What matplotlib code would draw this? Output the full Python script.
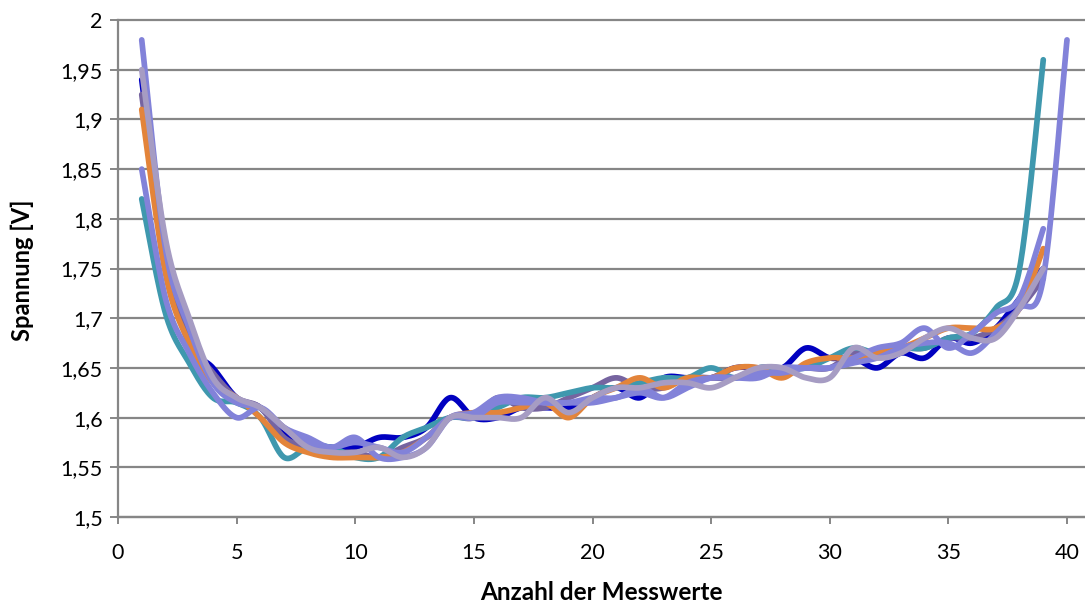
import numpy as np
import matplotlib
matplotlib.use("Agg")
import matplotlib.pyplot as plt

# Measured voltages per measurement series (index 1..n)
blau = [1.94, 1.76, 1.675, 1.65, 1.62, 1.61, 1.585, 1.575, 1.57, 1.57, 1.58, 1.58, 1.59, 1.62,
        1.60, 1.60, 1.61, 1.61, 1.61, 1.62, 1.63, 1.62, 1.64, 1.64, 1.64, 1.65, 1.65, 1.65, 1.67,
        1.66, 1.66, 1.65, 1.665, 1.66, 1.68, 1.675, 1.69, 1.72, 1.75]
violett = [1.925, 1.76, 1.68, 1.645, 1.62, 1.61, 1.58, 1.57, 1.565, 1.565, 1.56, 1.57, 1.58, 1.60,
           1.60, 1.62, 1.61, 1.61, 1.62, 1.63, 1.64, 1.63, 1.63, 1.64, 1.64, 1.64, 1.65, 1.65,
           1.65, 1.65, 1.665, 1.665, 1.67, 1.67, 1.68, 1.68, 1.69, 1.71, 1.74]
tuerkis = [1.82, 1.705, 1.655, 1.62, 1.615, 1.60, 1.56, 1.57, 1.57, 1.56, 1.56, 1.58, 1.59, 1.60,
           1.60, 1.61, 1.62, 1.62, 1.625, 1.63, 1.63, 1.635, 1.64, 1.64, 1.65, 1.64, 1.65, 1.65,
           1.65, 1.66, 1.67, 1.665, 1.67, 1.67, 1.68, 1.685, 1.71, 1.75, 1.96]
orange = [1.91, 1.745, 1.675, 1.635, 1.62, 1.60, 1.575, 1.565, 1.56, 1.56, 1.56, 1.565, 1.58,
          1.60, 1.605, 1.605, 1.61, 1.615, 1.60, 1.62, 1.63, 1.64, 1.63, 1.64, 1.64, 1.65, 1.65,
          1.64, 1.655, 1.66, 1.66, 1.665, 1.67, 1.68, 1.69, 1.69, 1.69, 1.71, 1.77]
lavendel_a = [1.98, 1.77, 1.69, 1.635, 1.615, 1.61, 1.59, 1.58, 1.57, 1.58, 1.56, 1.56, 1.57,
              1.60, 1.605, 1.62, 1.62, 1.615, 1.615, 1.615, 1.62, 1.625, 1.62, 1.635, 1.64,
              1.64, 1.645, 1.645, 1.65, 1.65, 1.655, 1.66, 1.67, 1.675, 1.675, 1.665, 1.685,
              1.71, 1.74, 1.98]
lavendel_b = [1.85, 1.72, 1.665, 1.625, 1.60, 1.61, 1.59, 1.575, 1.57, 1.575, 1.57, 1.565, 1.58,
              1.60, 1.60, 1.615, 1.615, 1.615, 1.615, 1.62, 1.62, 1.63, 1.62, 1.63, 1.64, 1.64,
              1.64, 1.65, 1.65, 1.65, 1.66, 1.67, 1.675, 1.69, 1.67, 1.685, 1.705, 1.72, 1.79]
grau = [1.95, 1.78, 1.70, 1.64, 1.62, 1.61, 1.59, 1.57, 1.565, 1.565, 1.57, 1.56, 1.57, 1.60,
        1.60, 1.60, 1.60, 1.62, 1.605, 1.62, 1.63, 1.63, 1.635, 1.635, 1.63, 1.64, 1.65, 1.65,
        1.64, 1.64, 1.67, 1.66, 1.665, 1.68, 1.69, 1.68, 1.68, 1.71, 1.75]

series = [
    (blau, "#0000C0"),
    (violett, "#7664A0"),
    (tuerkis, "#3F98AE"),
    (orange, "#E3843A"),
    (lavendel_a, "#8282D9"),
    (lavendel_b, "#8282D9"),
    (grau, "#A69CC3"),
]

x_ticks = [0, 5, 10, 15, 20, 25, 30, 35, 40]
y_ticks = [1.5, 1.55, 1.6, 1.65, 1.7, 1.75, 1.8, 1.85, 1.9, 1.95, 2.0]


def smooth(xs, ys, steps=24):
    """Smoothed line through the points (cubic Bezier, Catmull-Rom tangents)."""
    xs = np.asarray(xs, float)
    ys = np.asarray(ys, float)
    n = len(xs)
    out_x, out_y = [xs[0]], [ys[0]]
    t = np.linspace(0, 1, steps + 1)[1:]
    for i in range(n - 1):
        p0 = np.array([xs[max(i - 1, 0)], ys[max(i - 1, 0)]])
        p1 = np.array([xs[i], ys[i]])
        p2 = np.array([xs[i + 1], ys[i + 1]])
        p3 = np.array([xs[min(i + 2, n - 1)], ys[min(i + 2, n - 1)]])
        c1 = p1 + (p2 - p0) / 6.0
        c2 = p2 - (p3 - p1) / 6.0
        b = ((1 - t) ** 3)[:, None] * p1 + (3 * (1 - t) ** 2 * t)[:, None] * c1 \
            + (3 * (1 - t) * t ** 2)[:, None] * c2 + (t ** 3)[:, None] * p2
        out_x.extend(b[:, 0])
        out_y.extend(b[:, 1])
    return np.array(out_x), np.array(out_y)


font = "Lato"
grid_col = "#868686"

fig = plt.figure(figsize=(10.85, 6.03), dpi=100)
ax = fig.add_axes([118 / 1085, 86 / 603, 1 - 118 / 1085, 497 / 603])

for vals, col in series:
    xs = np.arange(1, len(vals) + 1)
    sx, sy = smooth(xs, vals)
    ax.plot(sx, sy, color=col, lw=4.1, solid_capstyle="round", solid_joinstyle="round",
            zorder=3)

ax.set_xlim(0, 40 * 967 / 949)
ax.set_ylim(1.5, 2.0)
ax.set_xticks(x_ticks)
ax.set_yticks(y_ticks)
ax.set_xticklabels([str(v) for v in x_ticks], fontfamily=font, fontsize=15.5)
ax.set_yticklabels([f"{v:g}".replace(".", ",") for v in y_ticks], fontfamily=font,
                   fontsize=15.5)

for y in y_ticks:
    ax.axhline(y, color=grid_col, lw=1.6, zorder=1, clip_on=False)

for side in ("top", "right"):
    ax.spines[side].set_visible(False)
for side in ("left", "bottom"):
    ax.spines[side].set_color(grid_col)
    ax.spines[side].set_linewidth(1.6)

ax.tick_params(axis="y", direction="out", length=6, width=1.4, color=grid_col, pad=5)
ax.tick_params(axis="x", direction="out", length=5, width=1.4, color=grid_col, pad=14)

fig.text((118 + 1085) / 2 / 1085, 1 - 592 / 603, "Anzahl der Messwerte", ha="center",
         va="center", fontfamily=font, fontweight="bold", fontsize=17.5)
fig.text(22 / 1085, 1 - 270 / 603, "Spannung [V]", ha="center", va="center", rotation=90,
         fontfamily=font, fontweight="bold", fontsize=17)

fig.savefig("out.png", dpi=100, facecolor="white")
